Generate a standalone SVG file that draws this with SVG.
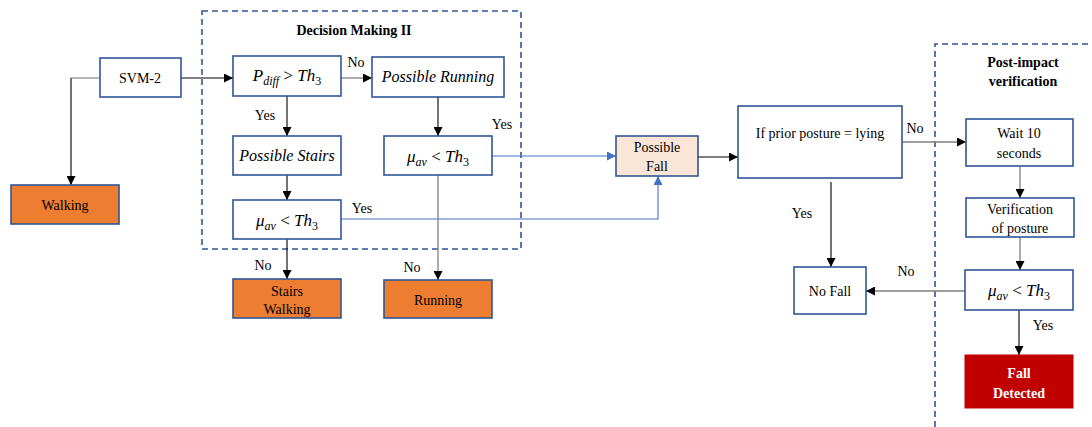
<svg xmlns="http://www.w3.org/2000/svg" width="1092" height="427" viewBox="0 0 1092 427" font-family="Liberation Serif, Times New Roman, serif">
<defs>
<marker id="ak" viewBox="0 0 10 10" refX="10" refY="5" markerWidth="9" markerHeight="9" markerUnits="userSpaceOnUse" orient="auto"><path d="M0,0 L10,5 L0,10 z" fill="#000"/></marker>
<marker id="ab" viewBox="0 0 10 10" refX="10" refY="5" markerWidth="9" markerHeight="9" markerUnits="userSpaceOnUse" orient="auto"><path d="M0,0 L10,5 L0,10 z" fill="#4472C4"/></marker>
</defs>
<rect width="1092" height="427" fill="#fff"/>
<g id="groups" fill="none" stroke="#2F5597" stroke-width="1.6" stroke-dasharray="6,4">
<rect x="202" y="11" width="319" height="238"/>
<path d="M935,427 V44 H1092"/>
</g>
<g id="group-titles" font-size="14" font-weight="bold" text-anchor="middle">
<text x="354" y="35" font-family="Liberation Serif">Decision Making II</text>
<text x="1023" y="67" font-family="Liberation Serif">Post-impact</text>
<text x="1023" y="86" font-family="Liberation Serif">verification</text>
</g>
<g id="connectors" fill="none" stroke-width="1.1">
<path stroke="#7F7F7F" d="M99,78 H71"/>
<path stroke="#000" d="M71,78 V185" marker-end="url(#ak)"/>
<path stroke="#000" d="M181,78 H233" marker-end="url(#ak)"/>
<path stroke="#7F7F7F" stroke-width="1.3" d="M341,78 H372" marker-end="url(#ak)"/>
<path stroke="#000" d="M287,96 V136" marker-end="url(#ak)"/>
<path stroke="#000" d="M287,175 V200" marker-end="url(#ak)"/>
<path stroke="#000" d="M287,239 V279" marker-end="url(#ak)"/>
<path stroke="#4472C4" d="M341,219 H658 V176" marker-end="url(#ab)"/>
<path stroke="#000" d="M438,97 V136" marker-end="url(#ak)"/>
<path stroke="#4472C4" d="M492,156 H616" marker-end="url(#ab)"/>
<path stroke="#7F7F7F" stroke-width="1.3" d="M438,175 V280" marker-end="url(#ak)"/>
<path stroke="#000" d="M698,157 H738" marker-end="url(#ak)"/>
<path stroke="#7F7F7F" stroke-width="1.3" d="M902,142 H966" marker-end="url(#ak)"/>
<path stroke="#000" d="M831,182 V267" marker-end="url(#ak)"/>
<path stroke="#7F7F7F" stroke-width="1.3" d="M1020,166 V198" marker-end="url(#ak)"/>
<path stroke="#7F7F7F" stroke-width="1.3" d="M1020,237 V270" marker-end="url(#ak)"/>
<path stroke="#7F7F7F" stroke-width="1.3" d="M965,291 H866" marker-end="url(#ak)"/>
<path stroke="#000" d="M1019,310 V355" marker-end="url(#ak)"/>
</g>
<g id="connector-labels" font-size="14" text-anchor="middle" fill="#000">
<text x="356" y="67" font-family="Liberation Serif">No</text>
<text x="265" y="120" font-family="Liberation Serif">Yes</text>
<text x="263" y="270" font-family="Liberation Serif">No</text>
<text x="362" y="213" font-family="Liberation Serif">Yes</text>
<text x="502" y="129" font-family="Liberation Serif">Yes</text>
<text x="412" y="272" font-family="Liberation Serif">No</text>
<text x="915" y="133" font-family="Liberation Serif">No</text>
<text x="802" y="218" font-family="Liberation Serif">Yes</text>
<text x="906" y="276" font-family="Liberation Serif">No</text>
<text x="1043" y="330" font-family="Liberation Serif">Yes</text>
</g>
<g id="nodes" stroke-width="1.6" font-size="14" text-anchor="middle">
<g id="svm2"><rect fill="#fff" stroke="#2F5597" x="100" y="58" width="81" height="39"/><text x="140" y="83" font-family="Liberation Serif">SVM-2</text></g>
<g id="walking"><rect fill="#ED7D31" stroke="#2F5597" x="11" y="185" width="108" height="39"/><text x="65" y="210" font-family="Liberation Serif">Walking</text></g>
<g id="pdiff"><rect fill="#fff" stroke="#2F5597" x="233" y="56" width="108" height="40"/><text font-size="17" font-style="italic" x="287" y="81" font-family="Liberation Serif">P<tspan dy="4" font-size="12">diff</tspan><tspan dy="-4" font-style="normal"> &gt; </tspan>Th<tspan dy="4" font-size="12" font-style="normal">3</tspan></text></g>
<g id="possible-stairs"><rect fill="#fff" stroke="#2F5597" x="233" y="136" width="108" height="39"/><text font-size="16" font-style="italic" x="287" y="161" font-family="Liberation Serif">Possible Stairs</text></g>
<g id="mu-left"><rect fill="#fff" stroke="#2F5597" x="233" y="200" width="108" height="39"/><text font-size="17" font-style="italic" x="287" y="226" font-family="Liberation Serif">μ<tspan dy="4" font-size="12">av</tspan><tspan dy="-4" font-style="normal"> &lt; </tspan>Th<tspan dy="4" font-size="12" font-style="normal">3</tspan></text></g>
<g id="stairs-walking"><rect fill="#ED7D31" stroke="#2F5597" x="233" y="279" width="108" height="39"/><text x="287" y="296" font-family="Liberation Serif">Stairs</text><text x="287" y="314" font-family="Liberation Serif">Walking</text></g>
<g id="possible-running"><rect fill="#fff" stroke="#2F5597" x="372" y="57" width="132" height="40"/><text font-size="16" font-style="italic" x="438" y="82" font-family="Liberation Serif">Possible Running</text></g>
<g id="mu-right"><rect fill="#fff" stroke="#2F5597" x="384" y="136" width="108" height="39"/><text font-size="17" font-style="italic" x="438" y="162" font-family="Liberation Serif">μ<tspan dy="4" font-size="12">av</tspan><tspan dy="-4" font-style="normal"> &lt; </tspan>Th<tspan dy="4" font-size="12" font-style="normal">3</tspan></text></g>
<g id="running"><rect fill="#ED7D31" stroke="#2F5597" x="384" y="280" width="108" height="38"/><text x="438" y="305" font-family="Liberation Serif">Running</text></g>
<g id="possible-fall"><rect fill="#FBE5D6" stroke="#2F5597" x="616" y="136" width="82" height="40"/><text x="657" y="152" font-family="Liberation Serif">Possible</text><text x="657" y="171" font-family="Liberation Serif">Fall</text></g>
<g id="prior-posture"><rect fill="#fff" stroke="#2F5597" x="738" y="106" width="164" height="72"/><text x="820" y="138" font-family="Liberation Serif">If prior posture = lying</text></g>
<g id="no-fall"><rect fill="#fff" stroke="#2F5597" x="794" y="267" width="72" height="47"/><text x="830" y="296" font-family="Liberation Serif">No Fall</text></g>
<g id="wait"><rect fill="#fff" stroke="#2F5597" x="966" y="119" width="107" height="47"/><text x="1019" y="138" font-family="Liberation Serif">Wait 10</text><text x="1019" y="158" font-family="Liberation Serif">seconds</text></g>
<g id="verification"><rect fill="#fff" stroke="#2F5597" x="966" y="198" width="108" height="39"/><text x="1020" y="214" font-family="Liberation Serif">Verification</text><text x="1020" y="233" font-family="Liberation Serif">of posture</text></g>
<g id="mu-post"><rect fill="#fff" stroke="#2F5597" x="965" y="270" width="108" height="40"/><text font-size="17" font-style="italic" x="1019" y="296" font-family="Liberation Serif">μ<tspan dy="4" font-size="12">av</tspan><tspan dy="-4" font-style="normal"> &lt; </tspan>Th<tspan dy="4" font-size="12" font-style="normal">3</tspan></text></g>
<g id="fall-detected"><rect fill="#C00000" stroke="#C00000" stroke-width="1" x="965" y="355" width="108" height="53"/><text font-weight="bold" fill="#fff" x="1019" y="378" font-family="Liberation Serif">Fall</text><text font-weight="bold" fill="#fff" x="1019" y="398" font-family="Liberation Serif">Detected</text></g>
</g>
</svg>
